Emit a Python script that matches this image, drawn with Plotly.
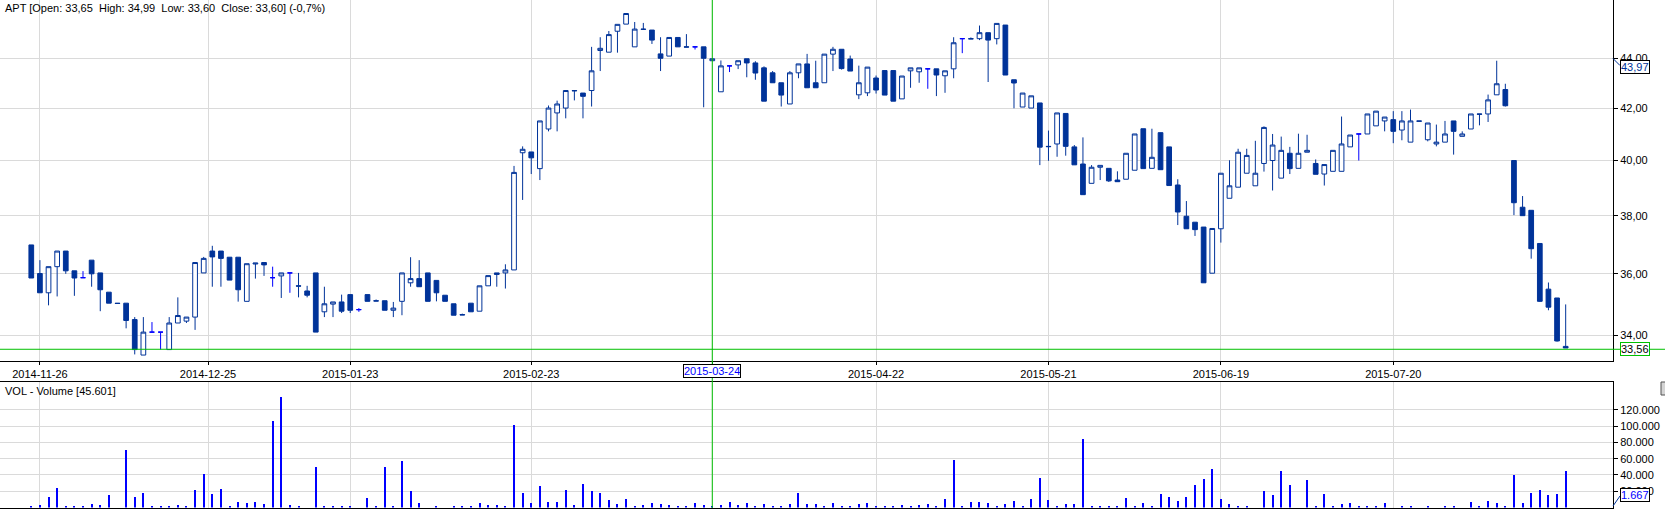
import math
import plotly.graph_objects as go

# ---------------- data ----------------
opens = [36.98, 36.01, 35.37, 36.24, 36.77, 36.10, 35.87, 36.46, 36.03, 35.39,
         35.03, 35.03, 34.50, 33.38, 34.10, 34.10, 33.55, 34.39, 34.45, 34.58,
         36.03, 36.77, 36.77, 36.56, 36.56, 35.09, 36.33, 36.38, 35.87, 35.93,
         36.03, 35.60, 35.43, 36.03, 34.75, 35.00, 35.07, 35.31, 34.82, 35.31,
         35.11, 35.11, 34.80, 35.09, 35.70, 35.84, 36.03, 35.78, 35.29, 35.01,
         34.66, 35.03, 34.77, 35.60, 36.03, 36.03, 36.13, 40.29, 40.32, 39.70,
         41.19, 41.81, 42.00, 42.69, 42.59, 42.69, 44.31, 44.24, 45.11, 45.41,
         44.46, 45.20, 45.16, 44.17, 44.08, 44.85, 44.46, 44.46, 44.46, 43.89,
         42.64, 43.68, 43.72, 43.97, 43.80, 43.60, 43.40, 43.00, 42.16, 43.40,
         43.76, 43.00, 43.00, 44.16, 44.36, 43.96, 42.52, 42.60, 43.19, 43.49,
         43.49, 42.36, 43.48, 43.44, 43.56, 43.56, 43.28, 43.56, 44.80, 44.80,
         44.80, 45.05, 44.80, 45.37, 43.12, 42.04, 42.00, 42.20, 40.53, 40.62,
         41.79, 40.51, 39.87, 39.16, 39.75, 39.71, 39.28, 39.31, 39.64, 41.20,
         39.71, 41.05, 40.51, 39.10, 37.98, 37.77, 37.60, 36.02, 37.54, 38.62,
         39.02, 39.53, 39.07, 39.89, 40.00, 39.35, 40.27, 39.71, 40.31, 39.89,
         39.50, 39.60, 39.60, 40.51, 41.00, 41.00, 41.31, 41.50, 41.55, 41.15,
         40.69, 41.50, 40.78, 40.62, 40.69, 41.50, 40.91, 41.19, 41.77, 41.77,
         42.52, 42.73, 40.00, 38.30, 38.19, 37.03, 35.49, 35.20, 33.65]

highs = [36.98, 36.46, 36.24, 36.77, 36.77, 36.10, 36.09, 36.46, 36.03, 35.39,
         35.03, 35.03, 34.58, 34.58, 34.42, 34.10, 34.58, 35.22, 34.58, 36.38,
         36.57, 36.95, 36.77, 36.56, 36.56, 36.34, 36.36, 36.38, 36.24, 36.03,
         36.03, 36.03, 35.60, 36.03, 35.57, 35.07, 35.31, 35.31, 34.87, 35.31,
         35.15, 35.11, 35.07, 36.03, 36.56, 36.46, 36.03, 35.78, 35.29, 35.01,
         34.69, 35.03, 35.60, 35.94, 36.03, 36.32, 39.80, 40.53, 40.32, 41.50,
         42.10, 42.29, 42.69, 42.69, 42.59, 44.46, 44.86, 45.12, 45.40, 45.86,
         45.50, 45.46, 45.16, 44.86, 44.85, 44.85, 44.99, 44.46, 44.46, 43.97,
         43.90, 43.68, 43.89, 43.97, 43.87, 43.66, 43.47, 43.00, 43.47, 43.76,
         44.17, 43.89, 44.16, 44.46, 44.36, 44.10, 43.69, 43.63, 43.29, 43.49,
         43.49, 43.27, 43.60, 43.60, 43.56, 43.56, 43.48, 44.86, 44.80, 44.85,
         45.35, 45.05, 45.44, 45.37, 43.12, 42.59, 42.48, 42.20, 41.13, 41.81,
         41.79, 40.58, 40.87, 39.83, 39.82, 39.71, 39.60, 40.27, 41.00, 41.20,
         41.20, 41.05, 40.51, 39.31, 38.52, 37.77, 37.60, 37.55, 39.53, 40.01,
         40.44, 40.44, 40.74, 41.29, 41.00, 40.90, 40.51, 41.01, 40.97, 40.04,
         39.85, 40.38, 41.67, 40.96, 41.00, 41.77, 41.88, 41.65, 41.88, 41.88,
         41.94, 41.50, 41.42, 41.36, 41.50, 41.50, 41.10, 41.77, 41.77, 42.53,
         43.89, 42.96, 40.00, 38.70, 38.19, 37.03, 35.71, 35.20, 34.99]

lows = [35.86, 35.37, 34.96, 35.25, 36.00, 35.27, 35.87, 35.57, 34.77, 35.03,
        35.02, 34.22, 33.40, 33.38, 34.10, 33.55, 33.55, 34.39, 34.39, 34.17,
        36.03, 35.57, 35.57, 35.79, 35.08, 35.09, 35.84, 35.93, 35.57, 35.20,
        35.37, 35.22, 35.22, 34.10, 34.58, 34.58, 34.71, 34.71, 34.75, 35.09,
        35.10, 34.80, 34.58, 34.64, 35.57, 35.57, 35.09, 35.09, 35.09, 34.64,
        34.65, 34.75, 34.77, 35.60, 35.57, 35.51, 36.13, 38.56, 39.50, 39.28,
        41.10, 41.10, 41.60, 42.30, 41.60, 42.06, 43.47, 44.24, 44.22, 45.41,
        44.46, 45.19, 44.58, 43.47, 44.08, 44.46, 44.45, 44.35, 42.03, 43.89,
        42.64, 43.43, 43.55, 43.22, 43.12, 42.27, 43.00, 42.06, 42.16, 43.18,
        42.80, 42.80, 43.00, 43.47, 43.53, 43.47, 42.35, 42.47, 42.57, 42.51,
        42.27, 42.36, 42.80, 43.00, 42.76, 42.47, 42.60, 43.18, 44.20, 44.79,
        44.74, 43.03, 44.56, 43.31, 41.99, 42.04, 42.00, 39.83, 39.99, 40.14,
        40.18, 39.84, 38.75, 39.16, 39.28, 39.21, 39.22, 39.31, 39.64, 39.70,
        39.71, 39.66, 39.08, 37.67, 37.54, 37.29, 35.70, 36.02, 37.06, 38.62,
        39.02, 39.53, 39.07, 39.59, 38.90, 39.35, 39.50, 39.71, 40.31, 39.49,
        39.08, 39.60, 39.60, 40.51, 40.00, 41.00, 41.31, 41.10, 40.65, 40.76,
        40.69, 41.49, 40.72, 40.53, 40.69, 40.22, 40.91, 41.19, 41.33, 41.46,
        42.52, 42.06, 38.02, 38.00, 36.51, 35.07, 34.80, 33.80, 33.60]

closes = [35.86, 35.37, 36.24, 36.77, 36.10, 35.86, 35.87, 36.00, 35.47, 35.03,
          35.02, 34.47, 33.55, 34.10, 34.10, 34.10, 34.39, 34.63, 34.58, 36.38,
          36.52, 36.57, 36.52, 35.79, 35.47, 36.34, 36.36, 36.30, 35.87, 36.03,
          36.03, 35.59, 35.29, 34.10, 35.01, 35.07, 34.77, 34.80, 34.82, 35.09,
          35.10, 34.80, 34.87, 36.03, 35.84, 35.57, 35.09, 35.37, 35.09, 34.64,
          34.65, 34.75, 35.60, 35.94, 35.98, 36.13, 39.56, 40.42, 40.10, 41.50,
          42.00, 42.16, 42.69, 42.68, 42.46, 43.48, 44.40, 44.97, 45.40, 45.86,
          45.20, 45.19, 44.74, 43.99, 44.85, 44.46, 44.45, 44.46, 43.99, 43.97,
          43.68, 43.68, 43.89, 43.80, 43.39, 42.27, 43.00, 42.51, 43.40, 43.76,
          42.80, 42.80, 44.16, 44.36, 43.57, 43.47, 43.00, 43.63, 42.71, 42.51,
          42.27, 43.27, 43.60, 43.60, 43.56, 43.31, 43.48, 44.63, 44.80, 44.79,
          45.05, 44.74, 45.44, 43.31, 42.99, 42.59, 42.48, 40.50, 40.52, 41.81,
          40.53, 39.84, 38.75, 39.75, 39.82, 39.25, 39.22, 40.27, 41.00, 39.70,
          40.12, 39.66, 39.08, 38.13, 37.54, 37.51, 35.70, 37.55, 39.53, 39.07,
          40.31, 40.19, 39.53, 41.25, 40.58, 40.38, 39.70, 40.27, 40.38, 39.49,
          39.85, 40.38, 40.62, 40.96, 41.00, 41.77, 41.88, 41.65, 41.10, 41.50,
          41.50, 41.49, 41.42, 40.69, 41.00, 41.10, 41.00, 41.77, 41.76, 42.32,
          42.96, 42.09, 38.46, 38.00, 36.85, 35.09, 34.90, 33.82, 33.60]

volumes = [1300, 3900, 14000, 24000, 1300, 1300, 1300, 5000, 4300, 15400,
           0, 71000, 14000, 18000, 1300, 2000, 1300, 3900, 1300, 21800,
           42000, 16700, 23000, 1300, 7700, 6400, 7700, 5000, 106600, 137000,
           3900, 2600, 0, 50000, 1300, 1300, 1300, 2600, 0, 12800,
           1300, 51000, 2600, 58000, 20500, 6400, 0, 1300, 0, 2600,
           1300, 1300, 6400, 3900, 3900, 2600, 102700, 18000, 6400, 27000,
           7700, 7700, 21800, 3900, 29500, 20500, 18000, 10300, 5000, 11600,
           2600, 3900, 6400, 5000, 3900, 1300, 2600, 6400, 3900, 1667,
           3900, 7700, 3900, 6400, 2600, 5000, 2600, 2600, 5000, 18000,
           5000, 5000, 1300, 6400, 1300, 1300, 5000, 6400, 2600, 1300,
           1300, 3900, 2600, 3900, 5000, 1300, 11600, 59000, 1300, 7700,
           7700, 6400, 2600, 5000, 9000, 2600, 11600, 37000, 10300, 1300,
           5000, 5000, 85000, 2600, 1300, 1300, 1300, 12800, 1300, 6400,
           2600, 16700, 14000, 9000, 14000, 28000, 36000, 47500, 11600, 5000,
           2600, 2600, 0, 20500, 15400, 46000, 28000, 0, 34700, 1300,
           16700, 1300, 5000, 6400, 2600, 2600, 1300, 6400, 0, 2600,
           2600, 0, 1300, 0, 1300, 1300, 0, 7700, 1300, 9000,
           6400, 2600, 40000, 6400, 19000, 21800, 15400, 16700, 45601]

bar_index = list(range(len(opens)))

date_tick_pos = [1, 20.5, 37, 58, 79, 98, 118, 138, 158]
date_tick_labels = ["2014-11-26", "2014-12-25", "2015-01-23", "2015-02-23",
                    "2015-03-24", "2015-04-22", "2015-05-21", "2015-06-19",
                    "2015-07-20"]
price_ticks = [34, 36, 38, 40, 42, 44]
price_tick_labels = ["34,00", "36,00", "38,00", "40,00", "42,00", "44,00"]
vol_ticks = [20000, 40000, 60000, 80000, 100000, 120000]
vol_tick_labels = ["20.000", "40.000", "60.000", "80.000", "100.000", "120.000"]

cursor_index = 79
cursor_date = "2015-03-24"
cursor_price_label = "43,97"
cursor_vol_label = "1.667"
last_price = 33.56
last_price_label = "33,56"
title_text = "APT [Open: 33,65\u00a0 High: 34,99\u00a0 Low: 33,60\u00a0 Close: 33,60] (-0,7%)"
vol_title = "VOL - Volume [45.601]"

# ---------------- style ----------------
W, H = 1665, 511
PLOT_R = 1613          # right edge of plot area (px)
DARK = "#003399"
BRIGHT = "#0000FF"
GRID = "#DADADA"
GREEN = "#00C000"
FONT = "Liberation Sans, Arial, sans-serif"


def py(p):
    """pixel row -> paper fraction"""
    return (H - p) / H


def px(p):
    return p / PLOT_R


doji = [i for i in bar_index if opens[i] == closes[i]]
body = [i for i in bar_index if opens[i] != closes[i]]


def pick(arr, idx):
    return [arr[i] for i in idx]


fig = go.Figure()
fig.add_trace(go.Candlestick(
    x=body, open=pick(opens, body), high=pick(highs, body),
    low=pick(lows, body), close=pick(closes, body),
    increasing=dict(line=dict(color=DARK, width=1), fillcolor="white"),
    decreasing=dict(line=dict(color=DARK, width=1), fillcolor=DARK),
    whiskerwidth=0, hoverinfo="skip", showlegend=False,
    xaxis="x", yaxis="y"))
fig.add_trace(go.Candlestick(
    x=doji, open=pick(opens, doji), high=pick(highs, doji),
    low=pick(lows, doji), close=pick(closes, doji),
    increasing=dict(line=dict(color=BRIGHT, width=1), fillcolor=BRIGHT),
    decreasing=dict(line=dict(color=BRIGHT, width=1), fillcolor=BRIGHT),
    whiskerwidth=0, hoverinfo="skip", showlegend=False,
    xaxis="x", yaxis="y"))
fig.add_trace(go.Bar(
    x=bar_index, y=volumes, width=0.12,
    marker=dict(color=BRIGHT, line=dict(width=0)),
    hoverinfo="skip", showlegend=False, xaxis="x2", yaxis="y2"))

xr = [-3.63, 183.49]
tickfont = dict(family=FONT, size=11, color="black")
main_ticktext = ["" if v == cursor_index else t
                 for v, t in zip(date_tick_pos, date_tick_labels)]

fig.update_layout(
    width=W, height=H,
    margin=dict(l=0, r=W - PLOT_R, t=0, b=0, pad=0),
    paper_bgcolor="white", plot_bgcolor="white",
    boxgap=0.22, bargap=0, showlegend=False,
    font=dict(family=FONT, size=11, color="black"),
    xaxis=dict(domain=[0, 1], range=xr, anchor="y",
               tickmode="array", tickvals=date_tick_pos, ticktext=main_ticktext,
               showgrid=True, gridcolor=GRID, gridwidth=1,
               showline=True, linecolor="black", linewidth=1,
               ticks="outside", ticklen=3, tickcolor="black",
               zeroline=False, tickfont=tickfont,
               rangeslider=dict(visible=False), fixedrange=True),
    yaxis=dict(domain=[py(361), 1], type="log", anchor="x", side="right",
               range=[math.log10(33.196), math.log10(46.44)],
               tickmode="array", tickvals=price_ticks, ticktext=price_tick_labels,
               showgrid=True, gridcolor=GRID, gridwidth=1,
               showline=True, linecolor="black", linewidth=1,
               ticks="outside", ticklen=4, tickcolor="black",
               zeroline=False, tickfont=tickfont, fixedrange=True,
               automargin=False),
    xaxis2=dict(domain=[0, 1], matches="x", anchor="y2",
                tickmode="array", tickvals=date_tick_pos, showticklabels=False,
                showgrid=True, gridcolor=GRID, gridwidth=1,
                showline=True, linecolor="black", linewidth=1, mirror=True,
                ticks="", zeroline=False),
    yaxis2=dict(domain=[py(507.5), py(381.5)], range=[0, 155000], anchor="x2",
                side="right", tickmode="array", tickvals=vol_ticks,
                ticktext=vol_tick_labels,
                showgrid=True, gridcolor=GRID, gridwidth=1,
                showline=True, linecolor="black", linewidth=1,
                ticks="outside", ticklen=4, tickcolor="black",
                zeroline=False, tickfont=tickfont, fixedrange=True,
                automargin=False),
)

shapes = [
    # cursor vertical line
    dict(type="line", xref="x", yref="paper", x0=cursor_index, x1=cursor_index,
         y0=py(508), y1=1, line=dict(color=GREEN, width=1), layer="above"),
    # last price horizontal line
    dict(type="line", xref="paper", yref="y", x0=0, x1=W / PLOT_R,
         y0=last_price, y1=last_price, line=dict(color=GREEN, width=1),
         layer="above"),
    # connectors for the offset labels
    dict(type="line", xref="paper", yref="paper", x0=px(1613), x1=px(1620),
         y0=py(58.5), y1=py(65.5), line=dict(color=DARK, width=1)),
    dict(type="line", xref="paper", yref="paper", x0=px(1613), x1=px(1620),
         y0=py(506), y1=py(496), line=dict(color=DARK, width=1)),
    # small grey button at the right
    dict(type="rect", xref="paper", yref="paper", x0=px(1661), x1=px(1668),
         y0=py(395), y1=py(382), line=dict(color="#555555", width=1),
         fillcolor="#D4D4D4"),
]
fig.update_layout(shapes=shapes)

annotations = [
    dict(text=title_text, xref="paper", yref="paper", x=px(3), y=py(0.5),
         xanchor="left", yanchor="top", showarrow=False,
         font=dict(family=FONT, size=11, color="black")),
    dict(text=vol_title, xref="paper", yref="paper", x=px(3), y=py(383),
         xanchor="left", yanchor="top", showarrow=False,
         font=dict(family=FONT, size=11, color="black")),
    dict(text=cursor_date, xref="x", yref="paper", x=cursor_index, y=py(364.5),
         xanchor="center", yanchor="top", showarrow=False,
         font=dict(family=FONT, size=11, color=BRIGHT),
         bgcolor="white", bordercolor="black", borderwidth=1, borderpad=0),
    dict(text=cursor_price_label, xref="paper", yref="paper", x=px(1619.5),
         y=py(67), xanchor="left", yanchor="middle", showarrow=False,
         font=dict(family=FONT, size=11, color=DARK),
         bgcolor="white", bordercolor="black", borderwidth=1, borderpad=0),
    dict(text=last_price_label, xref="paper", yref="y", x=px(1619.5),
         y=math.log10(last_price), xanchor="left", yanchor="middle",
         showarrow=False, font=dict(family=FONT, size=11, color="black"),
         bgcolor="white", bordercolor=GREEN, borderwidth=1, borderpad=0),
    dict(text=cursor_vol_label, xref="paper", yref="paper", x=px(1619.5),
         y=py(494.5), xanchor="left", yanchor="middle", showarrow=False,
         font=dict(family=FONT, size=11, color=BRIGHT),
         bgcolor="white", bordercolor="black", borderwidth=1, borderpad=0),
]
fig.update_layout(annotations=annotations)

fig.write_html(
    "out.html",
    config={"displayModeBar": False},
    post_script="document.body.style.margin='0';document.body.style.padding='0';",
)
